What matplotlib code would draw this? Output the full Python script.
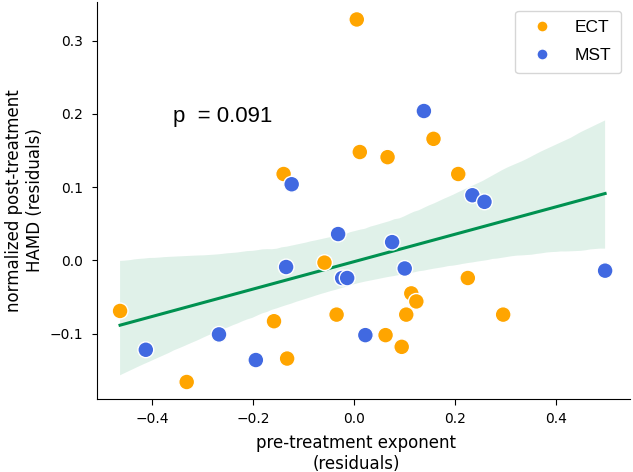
import numpy as np
import pandas as pd
import matplotlib
matplotlib.use("Agg")
import matplotlib.pyplot as plt
import seaborn as sns

# residuals
ect_x = [0.006, 0.012, 0.067, 0.158, 0.207, -0.139, -0.463, -0.331, -0.158, -0.132,
         -0.058, -0.034, 0.226, 0.114, 0.124, 0.104, 0.296, 0.063, 0.095]
ect_y = [0.329, 0.148, 0.141, 0.166, 0.118, 0.118, -0.069, -0.166, -0.083, -0.134,
         -0.003, -0.074, -0.024, -0.045, -0.056, -0.074, -0.074, -0.102, -0.118]

mst_x = [-0.123, 0.139, 0.235, 0.259, -0.031, -0.134, -0.023, -0.013, -0.267, -0.412,
         -0.194, 0.023, 0.076, 0.101, 0.498]
mst_y = [0.104, 0.204, 0.089, 0.080, 0.036, -0.009, -0.024, -0.024, -0.101, -0.122,
         -0.136, -0.102, 0.025, -0.011, -0.014]

df = pd.DataFrame({
    "exponent": ect_x + mst_x,
    "hamd": ect_y + mst_y,
    "group": ["ECT"] * len(ect_x) + ["MST"] * len(mst_x),
})

fig = plt.figure(figsize=(6.33, 4.72), dpi=100)
ax = fig.add_axes([0.153, 0.155, 0.842, 0.841])

sns.regplot(data=df, x="exponent", y="hamd", scatter=False, ax=ax,
            color="#009150", line_kws={"linewidth": 2.2}, seed=0)
for coll in ax.collections:
    coll.set_alpha(0.12)

sns.scatterplot(data=df, x="exponent", y="hamd", hue="group",
                palette={"ECT": "#FFA500", "MST": "#4169E1"},
                s=130, edgecolor="white", linewidth=1, ax=ax, zorder=3)

ax.set_xlim(-0.509, 0.547)
ax.set_ylim(-0.189, 0.353)
ax.set_xticks([-0.4, -0.2, 0.0, 0.2, 0.4])
ax.set_yticks([-0.1, 0.0, 0.1, 0.2, 0.3])
ax.tick_params(labelsize=10)
ax.tick_params(axis="x", length=4, pad=5.3)
ax.tick_params(axis="y", pad=6.4)
ax.set_xlabel("pre-treatment exponent\n(residuals)", fontsize=12)
ax.set_ylabel("normalized post-treatment\nHAMD (residuals)", fontsize=12)
ax.xaxis.set_label_coords(0.486, -0.088)
sns.despine(ax=ax)

ax.text(-0.358, 0.197, "p  = 0.091", fontsize=16, family="Liberation Sans",
        va="center", ha="left")

leg = ax.legend(loc="upper right", prop={"family": "Liberation Sans", "size": 12.5},
                markerscale=0.7, borderpad=0.55, labelspacing=0.75,
                handletextpad=0.9)
leg.set_title(None)

fig.savefig("out.png", dpi=100)
